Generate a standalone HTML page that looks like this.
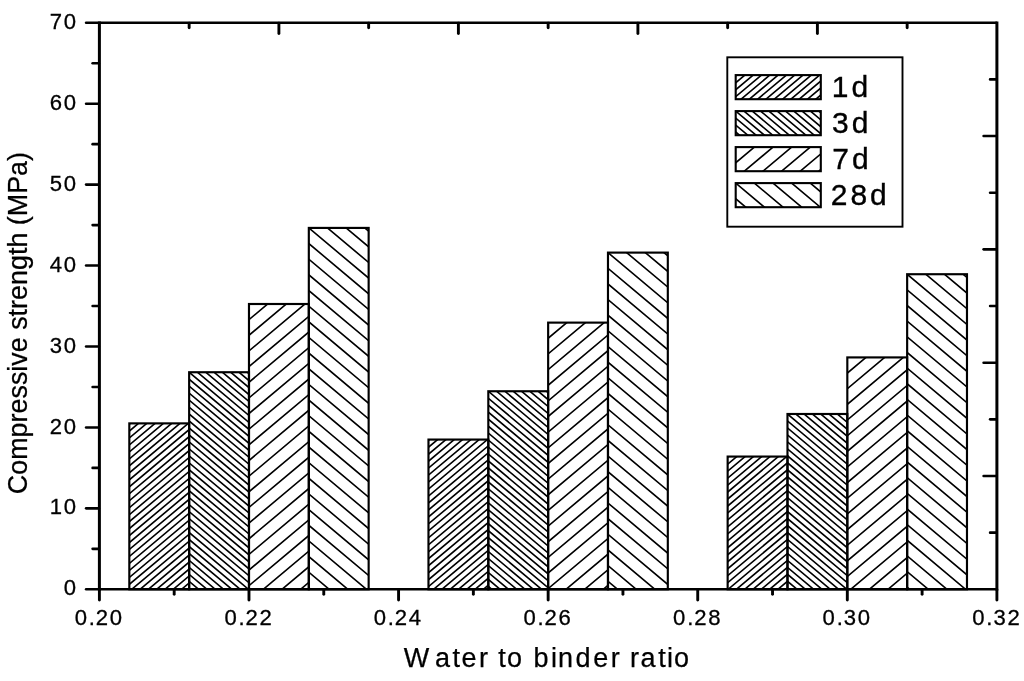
<!DOCTYPE html>
<html lang="en"><head><meta charset="utf-8"><title>Compressive strength vs water to binder ratio</title>
<style>html,body{margin:0;padding:0;background:#fff}svg{display:block}</style></head>
<body>
<svg width="1024" height="681" viewBox="0 0 1024 681">
<rect x="0" y="0" width="1024" height="681" fill="#fff"/>
<clipPath id="c1"><rect x="129.32" y="423.38" width="59.83" height="165.92"/></clipPath>
<path clip-path="url(#c1)" d="M127.32 425.76L191.15 372.2M127.32 432.73L191.15 379.17M127.32 439.7L191.15 386.14M127.32 446.67L191.15 393.11M127.32 453.64L191.15 400.08M127.32 460.61L191.15 407.05M127.32 467.58L191.15 414.02M127.32 474.55L191.15 420.99M127.32 481.52L191.15 427.96M127.32 488.49L191.15 434.93M127.32 495.46L191.15 441.9M127.32 502.43L191.15 448.87M127.32 509.4L191.15 455.84M127.32 516.37L191.15 462.81M127.32 523.34L191.15 469.78M127.32 530.31L191.15 476.75M127.32 537.28L191.15 483.72M127.32 544.25L191.15 490.69M127.32 551.22L191.15 497.66M127.32 558.19L191.15 504.63M127.32 565.16L191.15 511.6M127.32 572.13L191.15 518.57M127.32 579.1L191.15 525.54M127.32 586.07L191.15 532.51M127.32 593.04L191.15 539.48M127.32 600.01L191.15 546.45M127.32 606.98L191.15 553.42M127.32 613.95L191.15 560.39M127.32 620.92L191.15 567.36M127.32 627.89L191.15 574.33M127.32 634.86L191.15 581.3M127.32 641.83L191.15 588.27" stroke="#000" stroke-width="1.62" fill="none"/>
<rect x="129.32" y="423.38" width="59.83" height="165.92" fill="none" stroke="#000" stroke-width="2.15"/>
<clipPath id="c2"><rect x="189.15" y="372.23" width="59.83" height="217.07"/></clipPath>
<path clip-path="url(#c2)" d="M187.15 307.82L250.98 361.38M187.15 314.79L250.98 368.35M187.15 321.76L250.98 375.32M187.15 328.73L250.98 382.29M187.15 335.7L250.98 389.26M187.15 342.67L250.98 396.23M187.15 349.64L250.98 403.2M187.15 356.61L250.98 410.17M187.15 363.58L250.98 417.14M187.15 370.55L250.98 424.11M187.15 377.52L250.98 431.08M187.15 384.49L250.98 438.05M187.15 391.46L250.98 445.02M187.15 398.43L250.98 451.99M187.15 405.4L250.98 458.96M187.15 412.37L250.98 465.93M187.15 419.34L250.98 472.9M187.15 426.31L250.98 479.87M187.15 433.28L250.98 486.84M187.15 440.25L250.98 493.81M187.15 447.22L250.98 500.78M187.15 454.19L250.98 507.75M187.15 461.16L250.98 514.72M187.15 468.13L250.98 521.69M187.15 475.1L250.98 528.66M187.15 482.07L250.98 535.63M187.15 489.04L250.98 542.6M187.15 496.01L250.98 549.57M187.15 502.98L250.98 556.54M187.15 509.95L250.98 563.51M187.15 516.92L250.98 570.48M187.15 523.89L250.98 577.45M187.15 530.86L250.98 584.42M187.15 537.83L250.98 591.39M187.15 544.8L250.98 598.36M187.15 551.77L250.98 605.33M187.15 558.74L250.98 612.3M187.15 565.71L250.98 619.27M187.15 572.68L250.98 626.24M187.15 579.65L250.98 633.21M187.15 586.62L250.98 640.18M187.15 593.59L250.98 647.15" stroke="#000" stroke-width="1.62" fill="none"/>
<rect x="189.15" y="372.23" width="59.83" height="217.07" fill="none" stroke="#000" stroke-width="2.15"/>
<clipPath id="c3"><rect x="248.98" y="304" width="59.83" height="285.3"/></clipPath>
<path clip-path="url(#c3)" d="M246.98 305.68L310.82 252.12M246.98 321.33L310.82 267.77M246.98 336.98L310.82 283.42M246.98 352.63L310.82 299.07M246.98 368.28L310.82 314.72M246.98 383.93L310.82 330.37M246.98 399.58L310.82 346.02M246.98 415.23L310.82 361.67M246.98 430.88L310.82 377.32M246.98 446.53L310.82 392.97M246.98 462.18L310.82 408.62M246.98 477.83L310.82 424.27M246.98 493.48L310.82 439.92M246.98 509.13L310.82 455.57M246.98 524.78L310.82 471.22M246.98 540.43L310.82 486.87M246.98 556.08L310.82 502.52M246.98 571.73L310.82 518.17M246.98 587.38L310.82 533.82M246.98 603.03L310.82 549.47M246.98 618.68L310.82 565.12M246.98 634.33L310.82 580.77M246.98 649.98L310.82 596.42" stroke="#000" stroke-width="1.62" fill="none"/>
<rect x="248.98" y="304" width="59.83" height="285.3" fill="none" stroke="#000" stroke-width="2.15"/>
<clipPath id="c4"><rect x="308.82" y="227.92" width="59.83" height="361.38"/></clipPath>
<path clip-path="url(#c4)" d="M306.82 147.99L370.65 201.56M306.82 163.64L370.65 217.21M306.82 179.29L370.65 232.86M306.82 194.94L370.65 248.51M306.82 210.59L370.65 264.16M306.82 226.24L370.65 279.81M306.82 241.89L370.65 295.46M306.82 257.54L370.65 311.11M306.82 273.19L370.65 326.76M306.82 288.84L370.65 342.41M306.82 304.49L370.65 358.06M306.82 320.14L370.65 373.71M306.82 335.79L370.65 389.36M306.82 351.44L370.65 405.01M306.82 367.09L370.65 420.66M306.82 382.74L370.65 436.31M306.82 398.39L370.65 451.96M306.82 414.04L370.65 467.61M306.82 429.69L370.65 483.26M306.82 445.34L370.65 498.91M306.82 460.99L370.65 514.56M306.82 476.64L370.65 530.21M306.82 492.29L370.65 545.86M306.82 507.94L370.65 561.51M306.82 523.59L370.65 577.16M306.82 539.24L370.65 592.81M306.82 554.89L370.65 608.46M306.82 570.54L370.65 624.11M306.82 586.19L370.65 639.76M306.82 601.84L370.65 655.41" stroke="#000" stroke-width="1.62" fill="none"/>
<rect x="308.82" y="227.92" width="59.83" height="361.38" fill="none" stroke="#000" stroke-width="2.15"/>
<clipPath id="c5"><rect x="428.48" y="439.57" width="59.83" height="149.73"/></clipPath>
<path clip-path="url(#c5)" d="M426.48 441.95L490.32 388.38M426.48 448.92L490.32 395.35M426.48 455.89L490.32 402.32M426.48 462.86L490.32 409.29M426.48 469.83L490.32 416.26M426.48 476.8L490.32 423.23M426.48 483.77L490.32 430.2M426.48 490.74L490.32 437.17M426.48 497.71L490.32 444.14M426.48 504.68L490.32 451.11M426.48 511.65L490.32 458.08M426.48 518.62L490.32 465.05M426.48 525.59L490.32 472.02M426.48 532.56L490.32 478.99M426.48 539.53L490.32 485.96M426.48 546.5L490.32 492.93M426.48 553.47L490.32 499.9M426.48 560.44L490.32 506.87M426.48 567.41L490.32 513.84M426.48 574.38L490.32 520.81M426.48 581.35L490.32 527.78M426.48 588.32L490.32 534.75M426.48 595.29L490.32 541.72M426.48 602.26L490.32 548.69M426.48 609.23L490.32 555.66M426.48 616.2L490.32 562.63M426.48 623.17L490.32 569.6M426.48 630.14L490.32 576.57M426.48 637.11L490.32 583.54M426.48 644.08L490.32 590.51" stroke="#000" stroke-width="1.62" fill="none"/>
<rect x="428.48" y="439.57" width="59.83" height="149.73" fill="none" stroke="#000" stroke-width="2.15"/>
<clipPath id="c6"><rect x="488.32" y="391.25" width="59.83" height="198.05"/></clipPath>
<path clip-path="url(#c6)" d="M486.32 326.84L550.15 380.4M486.32 333.81L550.15 387.37M486.32 340.78L550.15 394.34M486.32 347.75L550.15 401.31M486.32 354.72L550.15 408.28M486.32 361.69L550.15 415.25M486.32 368.66L550.15 422.22M486.32 375.63L550.15 429.19M486.32 382.6L550.15 436.16M486.32 389.57L550.15 443.13M486.32 396.54L550.15 450.1M486.32 403.51L550.15 457.07M486.32 410.48L550.15 464.04M486.32 417.45L550.15 471.01M486.32 424.42L550.15 477.98M486.32 431.39L550.15 484.95M486.32 438.36L550.15 491.92M486.32 445.33L550.15 498.89M486.32 452.3L550.15 505.86M486.32 459.27L550.15 512.83M486.32 466.24L550.15 519.8M486.32 473.21L550.15 526.77M486.32 480.18L550.15 533.74M486.32 487.15L550.15 540.71M486.32 494.12L550.15 547.68M486.32 501.09L550.15 554.65M486.32 508.06L550.15 561.62M486.32 515.03L550.15 568.59M486.32 522L550.15 575.56M486.32 528.97L550.15 582.53M486.32 535.94L550.15 589.5M486.32 542.91L550.15 596.47M486.32 549.88L550.15 603.44M486.32 556.85L550.15 610.41M486.32 563.82L550.15 617.38M486.32 570.79L550.15 624.35M486.32 577.76L550.15 631.32M486.32 584.73L550.15 638.29M486.32 591.7L550.15 645.26" stroke="#000" stroke-width="1.62" fill="none"/>
<rect x="488.32" y="391.25" width="59.83" height="198.05" fill="none" stroke="#000" stroke-width="2.15"/>
<clipPath id="c7"><rect x="548.15" y="322.62" width="59.83" height="266.68"/></clipPath>
<path clip-path="url(#c7)" d="M546.15 324.3L609.98 270.73M546.15 339.95L609.98 286.38M546.15 355.6L609.98 302.03M546.15 371.25L609.98 317.68M546.15 386.9L609.98 333.33M546.15 402.55L609.98 348.98M546.15 418.2L609.98 364.63M546.15 433.85L609.98 380.28M546.15 449.5L609.98 395.93M546.15 465.15L609.98 411.58M546.15 480.8L609.98 427.23M546.15 496.45L609.98 442.88M546.15 512.1L609.98 458.53M546.15 527.75L609.98 474.18M546.15 543.4L609.98 489.83M546.15 559.05L609.98 505.48M546.15 574.7L609.98 521.13M546.15 590.35L609.98 536.78M546.15 606L609.98 552.43M546.15 621.65L609.98 568.08M546.15 637.3L609.98 583.73M546.15 652.95L609.98 599.38" stroke="#000" stroke-width="1.62" fill="none"/>
<rect x="548.15" y="322.62" width="59.83" height="266.68" fill="none" stroke="#000" stroke-width="2.15"/>
<clipPath id="c8"><rect x="607.98" y="252.61" width="59.83" height="336.69"/></clipPath>
<path clip-path="url(#c8)" d="M605.98 172.68L669.82 226.24M605.98 188.33L669.82 241.89M605.98 203.98L669.82 257.54M605.98 219.63L669.82 273.19M605.98 235.28L669.82 288.84M605.98 250.93L669.82 304.49M605.98 266.58L669.82 320.14M605.98 282.23L669.82 335.79M605.98 297.88L669.82 351.44M605.98 313.53L669.82 367.09M605.98 329.18L669.82 382.74M605.98 344.83L669.82 398.39M605.98 360.48L669.82 414.04M605.98 376.13L669.82 429.69M605.98 391.78L669.82 445.34M605.98 407.43L669.82 460.99M605.98 423.08L669.82 476.64M605.98 438.73L669.82 492.29M605.98 454.38L669.82 507.94M605.98 470.03L669.82 523.59M605.98 485.68L669.82 539.24M605.98 501.33L669.82 554.89M605.98 516.98L669.82 570.54M605.98 532.63L669.82 586.19M605.98 548.28L669.82 601.84M605.98 563.93L669.82 617.49M605.98 579.58L669.82 633.14M605.98 595.23L669.82 648.79" stroke="#000" stroke-width="1.62" fill="none"/>
<rect x="607.98" y="252.61" width="59.83" height="336.69" fill="none" stroke="#000" stroke-width="2.15"/>
<clipPath id="c9"><rect x="727.65" y="456.57" width="59.83" height="132.73"/></clipPath>
<path clip-path="url(#c9)" d="M725.65 458.94L789.48 405.38M725.65 465.91L789.48 412.35M725.65 472.88L789.48 419.32M725.65 479.85L789.48 426.29M725.65 486.82L789.48 433.26M725.65 493.79L789.48 440.23M725.65 500.76L789.48 447.2M725.65 507.73L789.48 454.17M725.65 514.7L789.48 461.14M725.65 521.67L789.48 468.11M725.65 528.64L789.48 475.08M725.65 535.61L789.48 482.05M725.65 542.58L789.48 489.02M725.65 549.55L789.48 495.99M725.65 556.52L789.48 502.96M725.65 563.49L789.48 509.93M725.65 570.46L789.48 516.9M725.65 577.43L789.48 523.87M725.65 584.4L789.48 530.84M725.65 591.37L789.48 537.81M725.65 598.34L789.48 544.78M725.65 605.31L789.48 551.75M725.65 612.28L789.48 558.72M725.65 619.25L789.48 565.69M725.65 626.22L789.48 572.66M725.65 633.19L789.48 579.63M725.65 640.16L789.48 586.6M725.65 647.13L789.48 593.57" stroke="#000" stroke-width="1.62" fill="none"/>
<rect x="727.65" y="456.57" width="59.83" height="132.73" fill="none" stroke="#000" stroke-width="2.15"/>
<clipPath id="c10"><rect x="787.48" y="413.99" width="59.83" height="175.31"/></clipPath>
<path clip-path="url(#c10)" d="M785.48 349.59L849.32 403.15M785.48 356.56L849.32 410.12M785.48 363.53L849.32 417.09M785.48 370.5L849.32 424.06M785.48 377.47L849.32 431.03M785.48 384.44L849.32 438M785.48 391.41L849.32 444.97M785.48 398.38L849.32 451.94M785.48 405.35L849.32 458.91M785.48 412.32L849.32 465.88M785.48 419.29L849.32 472.85M785.48 426.26L849.32 479.82M785.48 433.23L849.32 486.79M785.48 440.2L849.32 493.76M785.48 447.17L849.32 500.73M785.48 454.14L849.32 507.7M785.48 461.11L849.32 514.67M785.48 468.08L849.32 521.64M785.48 475.05L849.32 528.61M785.48 482.02L849.32 535.58M785.48 488.99L849.32 542.55M785.48 495.96L849.32 549.52M785.48 502.93L849.32 556.49M785.48 509.9L849.32 563.46M785.48 516.87L849.32 570.43M785.48 523.84L849.32 577.4M785.48 530.81L849.32 584.37M785.48 537.78L849.32 591.34M785.48 544.75L849.32 598.31M785.48 551.72L849.32 605.28M785.48 558.69L849.32 612.25M785.48 565.66L849.32 619.22M785.48 572.63L849.32 626.19M785.48 579.6L849.32 633.16M785.48 586.57L849.32 640.13M785.48 593.54L849.32 647.1" stroke="#000" stroke-width="1.62" fill="none"/>
<rect x="787.48" y="413.99" width="59.83" height="175.31" fill="none" stroke="#000" stroke-width="2.15"/>
<clipPath id="c11"><rect x="847.32" y="357.42" width="59.83" height="231.88"/></clipPath>
<path clip-path="url(#c11)" d="M845.32 359.1L909.15 305.53M845.32 374.75L909.15 321.18M845.32 390.4L909.15 336.83M845.32 406.05L909.15 352.48M845.32 421.7L909.15 368.13M845.32 437.35L909.15 383.78M845.32 453L909.15 399.43M845.32 468.65L909.15 415.08M845.32 484.3L909.15 430.73M845.32 499.95L909.15 446.38M845.32 515.6L909.15 462.03M845.32 531.25L909.15 477.68M845.32 546.9L909.15 493.33M845.32 562.55L909.15 508.98M845.32 578.2L909.15 524.63M845.32 593.85L909.15 540.28M845.32 609.5L909.15 555.93M845.32 625.15L909.15 571.58M845.32 640.8L909.15 587.23M845.32 656.45L909.15 602.88" stroke="#000" stroke-width="1.62" fill="none"/>
<rect x="847.32" y="357.42" width="59.83" height="231.88" fill="none" stroke="#000" stroke-width="2.15"/>
<clipPath id="c12"><rect x="907.15" y="274.22" width="59.83" height="315.08"/></clipPath>
<path clip-path="url(#c12)" d="M905.15 194.29L968.98 247.85M905.15 209.94L968.98 263.5M905.15 225.59L968.98 279.15M905.15 241.24L968.98 294.8M905.15 256.89L968.98 310.45M905.15 272.54L968.98 326.1M905.15 288.19L968.98 341.75M905.15 303.84L968.98 357.4M905.15 319.49L968.98 373.05M905.15 335.14L968.98 388.7M905.15 350.79L968.98 404.35M905.15 366.44L968.98 420M905.15 382.09L968.98 435.65M905.15 397.74L968.98 451.3M905.15 413.39L968.98 466.95M905.15 429.04L968.98 482.6M905.15 444.69L968.98 498.25M905.15 460.34L968.98 513.9M905.15 475.99L968.98 529.55M905.15 491.64L968.98 545.2M905.15 507.29L968.98 560.85M905.15 522.94L968.98 576.5M905.15 538.59L968.98 592.15M905.15 554.24L968.98 607.8M905.15 569.89L968.98 623.45M905.15 585.54L968.98 639.1M905.15 601.19L968.98 654.75" stroke="#000" stroke-width="1.62" fill="none"/>
<rect x="907.15" y="274.22" width="59.83" height="315.08" fill="none" stroke="#000" stroke-width="2.15"/>
<g stroke="#000" fill="none" stroke-linecap="butt">
<line x1="99.4" y1="21.45" x2="99.4" y2="590.6" stroke-width="3"/>
<line x1="996.9" y1="21.45" x2="996.9" y2="590.6" stroke-width="3"/>
<line x1="99.4" y1="22.75" x2="996.9" y2="22.75" stroke-width="2.6"/>
<line x1="99.4" y1="589.3" x2="996.9" y2="589.3" stroke-width="2.6"/>
</g>
<g stroke="#000" stroke-linecap="round">
<line x1="98.8" y1="589.3" x2="86.1" y2="589.3" stroke-width="2.6"/>
<line x1="98.8" y1="548.83" x2="92.6" y2="548.83" stroke-width="2.6"/>
<line x1="98.8" y1="508.36" x2="86.1" y2="508.36" stroke-width="2.6"/>
<line x1="98.8" y1="467.9" x2="92.6" y2="467.9" stroke-width="2.6"/>
<line x1="98.8" y1="427.43" x2="86.1" y2="427.43" stroke-width="2.6"/>
<line x1="98.8" y1="386.96" x2="92.6" y2="386.96" stroke-width="2.6"/>
<line x1="98.8" y1="346.49" x2="86.1" y2="346.49" stroke-width="2.6"/>
<line x1="98.8" y1="306.02" x2="92.6" y2="306.02" stroke-width="2.6"/>
<line x1="98.8" y1="265.56" x2="86.1" y2="265.56" stroke-width="2.6"/>
<line x1="98.8" y1="225.09" x2="92.6" y2="225.09" stroke-width="2.6"/>
<line x1="98.8" y1="184.62" x2="86.1" y2="184.62" stroke-width="2.6"/>
<line x1="98.8" y1="144.15" x2="92.6" y2="144.15" stroke-width="2.6"/>
<line x1="98.8" y1="103.69" x2="86.1" y2="103.69" stroke-width="2.6"/>
<line x1="98.8" y1="63.22" x2="92.6" y2="63.22" stroke-width="2.6"/>
<line x1="98.8" y1="22.75" x2="86.1" y2="22.75" stroke-width="2.6"/>
<line x1="996.3" y1="79.41" x2="990.1" y2="79.41" stroke-width="2.6"/>
<line x1="996.3" y1="136.06" x2="983.6" y2="136.06" stroke-width="2.6"/>
<line x1="996.3" y1="192.71" x2="990.1" y2="192.71" stroke-width="2.6"/>
<line x1="996.3" y1="249.37" x2="983.6" y2="249.37" stroke-width="2.6"/>
<line x1="996.3" y1="306.02" x2="990.1" y2="306.02" stroke-width="2.6"/>
<line x1="996.3" y1="362.68" x2="983.6" y2="362.68" stroke-width="2.6"/>
<line x1="996.3" y1="419.33" x2="990.1" y2="419.33" stroke-width="2.6"/>
<line x1="996.3" y1="475.99" x2="983.6" y2="475.99" stroke-width="2.6"/>
<line x1="996.3" y1="532.64" x2="990.1" y2="532.64" stroke-width="2.6"/>
<line x1="99.4" y1="589.8" x2="99.4" y2="600.05" stroke-width="2.9"/>
<line x1="174.19" y1="589.8" x2="174.19" y2="594.25" stroke-width="2.9"/>
<line x1="248.98" y1="589.8" x2="248.98" y2="600.05" stroke-width="2.9"/>
<line x1="323.77" y1="589.8" x2="323.77" y2="594.25" stroke-width="2.9"/>
<line x1="398.57" y1="589.8" x2="398.57" y2="600.05" stroke-width="2.9"/>
<line x1="473.36" y1="589.8" x2="473.36" y2="594.25" stroke-width="2.9"/>
<line x1="548.15" y1="589.8" x2="548.15" y2="600.05" stroke-width="2.9"/>
<line x1="622.94" y1="589.8" x2="622.94" y2="594.25" stroke-width="2.9"/>
<line x1="697.73" y1="589.8" x2="697.73" y2="600.05" stroke-width="2.9"/>
<line x1="772.53" y1="589.8" x2="772.53" y2="594.25" stroke-width="2.9"/>
<line x1="847.32" y1="589.8" x2="847.32" y2="600.05" stroke-width="2.9"/>
<line x1="922.11" y1="589.8" x2="922.11" y2="594.25" stroke-width="2.9"/>
<line x1="996.9" y1="589.8" x2="996.9" y2="600.05" stroke-width="2.9"/>
<line x1="189.15" y1="23.25" x2="189.15" y2="27.7" stroke-width="2.9"/>
<line x1="278.9" y1="23.25" x2="278.9" y2="33.5" stroke-width="2.9"/>
<line x1="368.65" y1="23.25" x2="368.65" y2="27.7" stroke-width="2.9"/>
<line x1="458.4" y1="23.25" x2="458.4" y2="33.5" stroke-width="2.9"/>
<line x1="548.15" y1="23.25" x2="548.15" y2="27.7" stroke-width="2.9"/>
<line x1="637.9" y1="23.25" x2="637.9" y2="33.5" stroke-width="2.9"/>
<line x1="727.65" y1="23.25" x2="727.65" y2="27.7" stroke-width="2.9"/>
<line x1="817.4" y1="23.25" x2="817.4" y2="33.5" stroke-width="2.9"/>
<line x1="907.15" y1="23.25" x2="907.15" y2="27.7" stroke-width="2.9"/>
</g>
<g font-family="'Liberation Sans', Arial, sans-serif" fill="#000">
<text x="63.77" y="595.4" font-size="22.1" stroke="#000" stroke-width="0.3">0</text>
<text x="49.72 63.77" y="514.46" font-size="22.1" stroke="#000" stroke-width="0.3">10</text>
<text x="49.72 63.77" y="433.53" font-size="22.1" stroke="#000" stroke-width="0.3">20</text>
<text x="49.72 63.77" y="352.59" font-size="22.1" stroke="#000" stroke-width="0.3">30</text>
<text x="49.72 63.77" y="271.66" font-size="22.1" stroke="#000" stroke-width="0.3">40</text>
<text x="49.72 63.77" y="190.72" font-size="22.1" stroke="#000" stroke-width="0.3">50</text>
<text x="49.72 63.77" y="109.79" font-size="22.1" stroke="#000" stroke-width="0.3">60</text>
<text x="49.72 63.77" y="28.85" font-size="22.1" stroke="#000" stroke-width="0.3">70</text>
<text x="74.7 88.75 95.76 109.81" y="624.55" font-size="22.1" stroke="#000" stroke-width="0.3">0.20</text>
<text x="224.4 238.45 245.47 259.52" y="624.55" font-size="22.1" stroke="#000" stroke-width="0.3">0.22</text>
<text x="373.76 387.8 394.82 408.87" y="624.55" font-size="22.1" stroke="#000" stroke-width="0.3">0.24</text>
<text x="523.5 537.55 544.57 558.62" y="624.55" font-size="22.1" stroke="#000" stroke-width="0.3">0.26</text>
<text x="673.08 687.13 694.15 708.19" y="624.55" font-size="22.1" stroke="#000" stroke-width="0.3">0.28</text>
<text x="822.61 836.66 843.68 857.73" y="624.55" font-size="22.1" stroke="#000" stroke-width="0.3">0.30</text>
<text x="972.32 986.37 993.39 1007.44" y="624.55" font-size="22.1" stroke="#000" stroke-width="0.3">0.32</text>
<text x="403.78 435.02 452.6 461.38 478.96 489.49 498.27 507.05 524.63 533.42 551 558.02 575.6 593.18 610.76 621.29 630.07 640.6 658.18 666.96 673.98" y="666.9" font-size="27" stroke="#000" stroke-width="0.25">Water to binder ratio</text>
<text transform="translate(27.0 494.2) rotate(-90)" font-size="26.9" stroke="#000" stroke-width="0.25">Compressive strength (MPa)</text>
</g>
<rect x="727.3" y="57.3" width="175.2" height="169.4" fill="#fff" stroke="#000" stroke-width="1.9"/>
<clipPath id="c13"><rect x="735.7" y="75.1" width="85.1" height="24.1"/></clipPath>
<path clip-path="url(#c13)" d="M733.7 77.48L822.8 2.71M733.7 84.45L822.8 9.68M733.7 91.42L822.8 16.65M733.7 98.39L822.8 23.62M733.7 105.36L822.8 30.59M733.7 112.33L822.8 37.56M733.7 119.3L822.8 44.53M733.7 126.27L822.8 51.5M733.7 133.24L822.8 58.47M733.7 140.21L822.8 65.44M733.7 147.18L822.8 72.41M733.7 154.15L822.8 79.38M733.7 161.12L822.8 86.35M733.7 168.09L822.8 93.32M733.7 175.06L822.8 100.29" stroke="#000" stroke-width="1.62" fill="none"/>
<rect x="735.7" y="75.1" width="85.1" height="24.1" fill="none" stroke="#000" stroke-width="2.1"/>
<clipPath id="c14"><rect x="735.7" y="111.1" width="85.1" height="24.1"/></clipPath>
<path clip-path="url(#c14)" d="M733.7 25.78L822.8 100.55M733.7 32.75L822.8 107.52M733.7 39.72L822.8 114.49M733.7 46.69L822.8 121.46M733.7 53.66L822.8 128.43M733.7 60.63L822.8 135.4M733.7 67.6L822.8 142.37M733.7 74.57L822.8 149.34M733.7 81.54L822.8 156.31M733.7 88.51L822.8 163.28M733.7 95.48L822.8 170.25M733.7 102.45L822.8 177.22M733.7 109.42L822.8 184.19M733.7 116.39L822.8 191.16M733.7 123.36L822.8 198.13M733.7 130.33L822.8 205.1M733.7 137.3L822.8 212.07" stroke="#000" stroke-width="1.62" fill="none"/>
<rect x="735.7" y="111.1" width="85.1" height="24.1" fill="none" stroke="#000" stroke-width="2.1"/>
<clipPath id="c15"><rect x="735.7" y="147.1" width="85.1" height="24.1"/></clipPath>
<path clip-path="url(#c15)" d="M733.7 148.78L822.8 74.01M733.7 164.43L822.8 89.66M733.7 180.08L822.8 105.31M733.7 195.73L822.8 120.96M733.7 211.38L822.8 136.61M733.7 227.03L822.8 152.26M733.7 242.68L822.8 167.91M733.7 258.33L822.8 183.56" stroke="#000" stroke-width="1.62" fill="none"/>
<rect x="735.7" y="147.1" width="85.1" height="24.1" fill="none" stroke="#000" stroke-width="2.1"/>
<clipPath id="c16"><rect x="735.7" y="183.1" width="85.1" height="24.1"/></clipPath>
<path clip-path="url(#c16)" d="M733.7 87.52L822.8 162.29M733.7 103.17L822.8 177.94M733.7 118.82L822.8 193.59M733.7 134.47L822.8 209.24M733.7 150.12L822.8 224.89M733.7 165.77L822.8 240.54M733.7 181.42L822.8 256.19M733.7 197.07L822.8 271.84M733.7 212.72L822.8 287.49" stroke="#000" stroke-width="1.62" fill="none"/>
<rect x="735.7" y="183.1" width="85.1" height="24.1" fill="none" stroke="#000" stroke-width="2.1"/>
<g font-family="'Liberation Sans', Arial, sans-serif" fill="#000">
<text x="831.81 851.51" y="96.8" font-size="30" stroke="#000" stroke-width="0.35">1d</text>
<text x="831.96 851.66" y="132.85" font-size="30" stroke="#000" stroke-width="0.35">3d</text>
<text x="832.21 851.91" y="168.9" font-size="30" stroke="#000" stroke-width="0.35">7d</text>
<text x="830.69 850.39 870.09" y="204.95" font-size="30" stroke="#000" stroke-width="0.35">28d</text>
</g>
</svg>
</body></html>
